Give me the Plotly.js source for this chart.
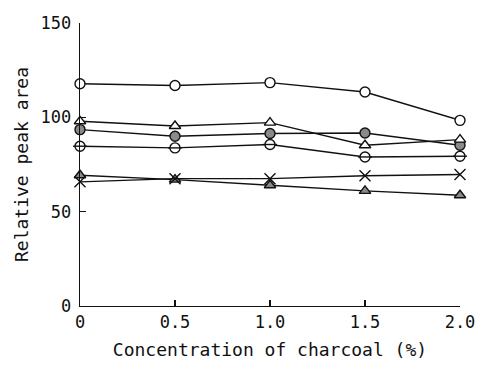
<!DOCTYPE html>
<html><head><meta charset="utf-8">
<script src="https://cdn.plot.ly/plotly-3.0.1.min.js"></script>
<style>body{margin:0;background:#fff}#c{width:477px;height:367px}</style>
</head><body><div id="c"></div>
<script>
const conc = [0, 0.5, 1.0, 1.5, 2.0];
const openCircle = [117.8, 116.9, 118.4, 113.4, 98.4];
const openTriangle = [97.9, 95.4, 97.2, 85.2, 88.2];
const grayCircle = [93.5, 90.0, 91.4, 91.7, 85.2];
const halfCircle = [84.7, 83.8, 85.6, 79.0, 79.4];
const grayTriangle = [69.3, 67.0, 64.0, 61.0, 58.7];
const crossSeries = [65.8, 67.5, 67.5, 69.0, 69.7];
const xTickVals = [0, 0.5, 1.0, 1.5, 2.0];
const xTickText = ['0', '0.5', '1.0', '1.5', '2.0'];
const yTickVals = [0, 50, 100, 150];

const lineStyle = {color: '#111', width: 1.4};
function tr(y, symbol, fill, size) {
  return {x: conc, y: y, mode: 'lines+markers', type: 'scatter', cliponaxis: false,
    line: lineStyle,
    marker: {symbol: symbol, size: size, color: fill, line: {color: '#111', width: 1.4}}};
}
const data = [
  tr(openCircle, 'circle', '#fff', 10),
  tr(grayTriangle, 'triangle-up', '#8a8a8a', 10),
  tr(crossSeries, 'x-thin-open', '#111', 11),
  tr(halfCircle, 'circle', '#fff', 10),
  {x: conc, y: halfCircle, mode: 'markers', type: 'scatter', cliponaxis: false,
   marker: {symbol: 'line-ew-open', size: 10, color: '#111', line: {color: '#111', width: 1.4}}},
  tr(grayCircle, 'circle', '#8a8a8a', 10),
  tr(openTriangle, 'triangle-up', '#fff', 10)
];
const tickFont = {family: 'DejaVu Sans Mono', size: 17, color: '#111'};
const layout = {
  width: 477, height: 367, showlegend: false,
  paper_bgcolor: '#fff', plot_bgcolor: '#fff',
  margin: {l: 80, r: 17, t: 23, b: 61},
  xaxis: {range: [0, 2], tickvals: xTickVals, ticktext: xTickText, ticks: 'inside', ticklen: 6,
    tickwidth: 1.4, tickcolor: '#111', showline: true, linecolor: '#111', linewidth: 1.4,
    showgrid: false, zeroline: false, tickfont: tickFont, automargin: false,
    title: {text: 'Concentration of charcoal (%)', font: {family: 'DejaVu Sans Mono', size: 18, color: '#111'}, standoff: 12}},
  yaxis: {range: [0, 150], tickvals: yTickVals, ticks: 'inside', ticklen: 6,
    tickwidth: 1.4, tickcolor: '#111', showline: true, linecolor: '#111', linewidth: 1.4,
    showgrid: false, zeroline: false, tickfont: tickFont, ticklabelstandoff: 4, automargin: false,
    title: {text: 'Relative peak area', font: {family: 'DejaVu Sans Mono', size: 18, color: '#111'}, standoff: 7}}
};
Plotly.newPlot('c', data, layout, {displayModeBar: false, staticPlot: true});
</script></body></html>
